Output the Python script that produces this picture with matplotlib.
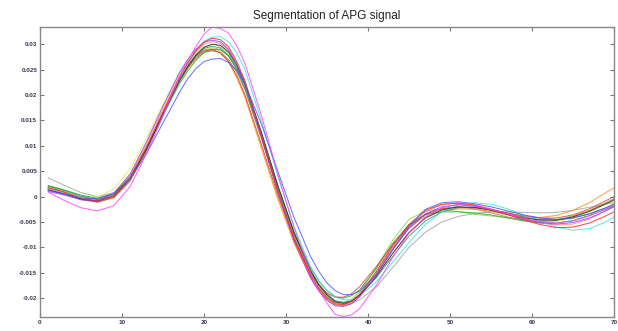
import matplotlib
matplotlib.use("Agg")
import matplotlib.pyplot as plt

# sample positions: every 2nd sample, denser around the big peak and trough
x = [1, 3, 5, 7, 9, 11, 13, 15,
     17, 18, 19, 20, 21, 22, 23, 24, 25,
     27, 29, 31, 33,
     34, 35, 36, 37, 38, 39,
     41, 43, 45, 47, 49, 51, 53, 55, 57, 59, 61, 63, 65, 67, 69,
     70]

magenta = [0.0009, -0.0008, -0.0022, -0.0028, -0.0018, 0.0020, 0.0085, 0.0160,
           0.0235, 0.0268, 0.0295, 0.0320, 0.0334, 0.0331, 0.0322, 0.0297, 0.0262,
           0.0160, 0.0045, -0.0062, -0.0150,
           -0.0184, -0.0210, -0.0232, -0.0236, -0.0233, -0.0220,
           -0.0175, -0.0120, -0.0072, -0.0040, -0.0022, -0.0015, -0.0018, -0.0025, -0.0034, -0.0043, -0.0049, -0.0052,
           -0.0048, -0.0038, -0.0024,
           -0.0016]
blue = [0.0012, 0.0005, -0.0003, -0.0004, 0.0006, 0.0035, 0.0085, 0.0145,
        0.0205, 0.0232, 0.0252, 0.0266, 0.0271, 0.0272, 0.0264, 0.0248, 0.0222,
        0.0143, 0.0050, -0.0042, -0.0118,
        -0.0147, -0.0170, -0.0185, -0.0193, -0.0193, -0.0186,
        -0.0153, -0.0105, -0.0058, -0.0025, -0.0012, -0.0010, -0.0014, -0.0020, -0.0028, -0.0036, -0.0042, -0.0045,
        -0.0042, -0.0034, -0.0022,
        -0.0015]
grey = [0.0037, 0.0022, 0.0008, 0.0000, 0.0008, 0.0040, 0.0097, 0.0163,
        0.0226, 0.0252, 0.0273, 0.0288, 0.0293, 0.0290, 0.0276, 0.0249, 0.0212,
        0.0115, 0.0015, -0.0075, -0.0146,
        -0.0173, -0.0192, -0.0205, -0.0210, -0.0210, -0.0203,
        -0.0178, -0.0140, -0.0100, -0.0070, -0.0050, -0.0039, -0.0033, -0.0030, -0.0030, -0.0031, -0.0032, -0.0031,
        -0.0027, -0.0021, -0.0015,
        -0.0012]
cyan = [0.0015, 0.0006, -0.0004, -0.0008, 0.0002, 0.0033, 0.0088, 0.0157,
        0.0228, 0.0260, 0.0287, 0.0306, 0.0314, 0.0315, 0.0305, 0.0283, 0.0250,
        0.0150, 0.0040, -0.0060, -0.0138,
        -0.0165, -0.0185, -0.0198, -0.0203, -0.0203, -0.0195,
        -0.0168, -0.0130, -0.0090, -0.0055, -0.0030, -0.0016, -0.0012, -0.0015, -0.0024, -0.0036, -0.0049, -0.0060,
        -0.0066, -0.0063, -0.0050,
        -0.0040]
orange = [0.0018, 0.0008, -0.0004, -0.0010, -0.0002, 0.0030, 0.0090, 0.0162,
          0.0230, 0.0256, 0.0278, 0.0289, 0.0290, 0.0283, 0.0265, 0.0234, 0.0195,
          0.0095, -0.0005, -0.0092, -0.0160,
          -0.0185, -0.0203, -0.0213, -0.0215, -0.0210, -0.0196,
          -0.0158, -0.0112, -0.0070, -0.0042, -0.0028, -0.0024, -0.0025, -0.0029, -0.0035, -0.0040, -0.0041, -0.0037,
          -0.0027, -0.0012, 0.0008,
          0.0017]
red = [0.0018, 0.0009, -0.0003, -0.0009, 0.0001, 0.0036, 0.0097, 0.0167,
       0.0235, 0.0263, 0.0287, 0.0304, 0.0312, 0.0309, 0.0295, 0.0266, 0.0228,
       0.0122, 0.0012, -0.0082, -0.0155,
       -0.0181, -0.0200, -0.0211, -0.0213, -0.0206, -0.0192,
       -0.0148, -0.0097, -0.0055, -0.0027, -0.0015, -0.0013, -0.0017, -0.0025, -0.0035, -0.0046, -0.0055, -0.0061,
       -0.0060, -0.0052, -0.0038,
       -0.0030]
red2 = [0.0014, 0.0005, -0.0006, -0.0011, -0.0002, 0.0032, 0.0092, 0.0162,
        0.0228, 0.0254, 0.0276, 0.0287, 0.0289, 0.0283, 0.0266, 0.0238, 0.0200,
        0.0103, 0.0003, -0.0085, -0.0150,
        -0.0173, -0.0190, -0.0198, -0.0198, -0.0191, -0.0177,
        -0.0138, -0.0095, -0.0058, -0.0035, -0.0024, -0.0021, -0.0022, -0.0026, -0.0032, -0.0038, -0.0042, -0.0042,
        -0.0036, -0.0024, -0.0008,
        0.0000]
green = [0.0022, 0.0013, 0.0003, -0.0003, 0.0006, 0.0038, 0.0095, 0.0160,
         0.0222, 0.0247, 0.0268, 0.0284, 0.0290, 0.0289, 0.0278, 0.0254, 0.0220,
         0.0125, 0.0022, -0.0070, -0.0140,
         -0.0166, -0.0185, -0.0197, -0.0200, -0.0195, -0.0183,
         -0.0142, -0.0092, -0.0055, -0.0035, -0.0030, -0.0030, -0.0032, -0.0036, -0.0042, -0.0048, -0.0052, -0.0052,
         -0.0047, -0.0037, -0.0025,
         -0.0018]
lightgreen = [0.0020, 0.0011, 0.0000, -0.0006, 0.0004, 0.0038, 0.0098, 0.0166,
              0.0232, 0.0258, 0.0280, 0.0295, 0.0300, 0.0297, 0.0282, 0.0255, 0.0218,
              0.0118, 0.0014, -0.0078, -0.0150,
              -0.0177, -0.0197, -0.0208, -0.0210, -0.0203, -0.0188,
              -0.0140, -0.0086, -0.0045, -0.0028, -0.0025, -0.0029, -0.0035, -0.0038, -0.0041, -0.0045, -0.0047, -0.0045,
              -0.0038, -0.0028, -0.0015,
              -0.0008]
yellow = [0.0015, 0.0008, 0.0000, -0.0001, 0.0015, 0.0055, 0.0115, 0.0182,
          0.0243, 0.0266, 0.0283, 0.0292, 0.0293, 0.0286, 0.0268, 0.0239, 0.0200,
          0.0100, -0.0002, -0.0090, -0.0157,
          -0.0181, -0.0198, -0.0208, -0.0208, -0.0201, -0.0186,
          -0.0146, -0.0100, -0.0063, -0.0038, -0.0025, -0.0021, -0.0023, -0.0029, -0.0037, -0.0044, -0.0049, -0.0049,
          -0.0043, -0.0031, -0.0015,
          -0.0007]
black = [0.0013, 0.0005, -0.0005, -0.0009, 0.0001, 0.0035, 0.0094, 0.0162,
         0.0228, 0.0256, 0.0278, 0.0294, 0.0300, 0.0298, 0.0285, 0.0259, 0.0223,
         0.0127, 0.0022, -0.0072, -0.0146,
         -0.0174, -0.0194, -0.0207, -0.0210, -0.0206, -0.0194,
         -0.0157, -0.0112, -0.0071, -0.0042, -0.0026, -0.0020, -0.0021, -0.0027, -0.0035, -0.0042, -0.0046, -0.0046,
         -0.0040, -0.0029, -0.0014,
         -0.0006]
purple = [0.0010, 0.0003, -0.0006, -0.0008, 0.0006, 0.0045, 0.0108, 0.0178,
          0.0244, 0.0270, 0.0290, 0.0304, 0.0308, 0.0305, 0.0290, 0.0261, 0.0222,
          0.0118, 0.0008, -0.0088, -0.0160,
          -0.0186, -0.0204, -0.0215, -0.0216, -0.0211, -0.0197,
          -0.0155, -0.0105, -0.0062, -0.0034, -0.0020, -0.0016, -0.0019, -0.0026, -0.0035, -0.0044, -0.0051, -0.0054,
          -0.0051, -0.0042, -0.0028,
          -0.0020]
teal = [0.0021, 0.0012, 0.0001, -0.0006, 0.0002, 0.0034, 0.0093, 0.0163,
        0.0230, 0.0257, 0.0278, 0.0292, 0.0296, 0.0293, 0.0278, 0.0251, 0.0215,
        0.0118, 0.0018, -0.0073, -0.0145,
        -0.0172, -0.0192, -0.0205, -0.0208, -0.0205, -0.0193,
        -0.0160, -0.0118, -0.0078, -0.0048, -0.0030, -0.0022, -0.0021, -0.0025, -0.0032, -0.0040, -0.0045, -0.0046,
        -0.0042, -0.0034, -0.0022,
        -0.0015]
salmon = [0.0017, 0.0008, -0.0002, -0.0007, 0.0005, 0.0042, 0.0103, 0.0172,
          0.0238, 0.0264, 0.0285, 0.0300, 0.0305, 0.0302, 0.0288, 0.0260, 0.0222,
          0.0120, 0.0012, -0.0083, -0.0157,
          -0.0184, -0.0203, -0.0213, -0.0215, -0.0210, -0.0196,
          -0.0152, -0.0100, -0.0058, -0.0030, -0.0016, -0.0012, -0.0016, -0.0024, -0.0034, -0.0044, -0.0052, -0.0056,
          -0.0054, -0.0044, -0.0028,
          -0.0018]
olive = [0.0016, 0.0007, -0.0004, -0.0007, 0.0005, 0.0040, 0.0098, 0.0165,
         0.0228, 0.0253, 0.0272, 0.0284, 0.0287, 0.0284, 0.0270, 0.0245, 0.0210,
         0.0115, 0.0012, -0.0080, -0.0152,
         -0.0179, -0.0198, -0.0209, -0.0212, -0.0207, -0.0193,
         -0.0152, -0.0103, -0.0062, -0.0036, -0.0023, -0.0020, -0.0024, -0.0032, -0.0040, -0.0046, -0.0049, -0.0047,
         -0.0039, -0.0027, -0.0012,
         -0.0004]

series = [
    (grey, "#a0a0a0"), (yellow, "#e8e84a"), (lightgreen, "#8fd14f"), (olive, "#b08040"),
    (orange, "#ff8c1a"), (salmon, "#ff8080"), (teal, "#20a080"), (green, "#22aa33"),
    (red2, "#d84040"), (cyan, "#40e0e0"), (black, "#303030"), (purple, "#9040ff"),
    (red, "#ff2020"), (blue, "#5050ff"), (magenta, "#ff40ff"),
]

yticks = [-0.02, -0.015, -0.01, -0.005, 0, 0.005, 0.01, 0.015, 0.02, 0.025, 0.03]
ylabels = ["-0.02", "-0.015", "-0.01", "-0.005", "0", "0.005", "0.01", "0.015", "0.02", "0.025", "0.03"]
xticks = [0, 10, 20, 30, 40, 50, 60, 70]

fig = plt.figure(figsize=(6.18, 3.31), dpi=100)
ax = fig.add_axes([40 / 618, 14 / 331, 574 / 618, 290 / 331])

for vals, col in series:
    ax.plot(x, vals, color=col, lw=0.7, alpha=0.85)

ax.set_xlim(0, 70)
ax.set_ylim(-0.0237, 0.0334)
ax.set_xticks(xticks)
ax.set_xticklabels([str(t) for t in xticks])
ax.set_yticks(yticks)
ax.set_yticklabels(ylabels)
ax.tick_params(direction="in", length=3, width=0.8, color="#777777",
               labelsize=4.6, labelcolor="#3a3a50", top=True, right=True, pad=2)
for lab in ax.get_xticklabels() + ax.get_yticklabels():
    lab.set_family("Liberation Sans")
    lab.set_fontweight("bold")
for s in ax.spines.values():
    s.set_color("#888888")
    s.set_linewidth(1.0)

ax.set_title("Segmentation of APG signal", fontsize=8.5, family="Liberation Sans",
             color="#222222", pad=6)

fig.savefig("out.png", dpi=100)
